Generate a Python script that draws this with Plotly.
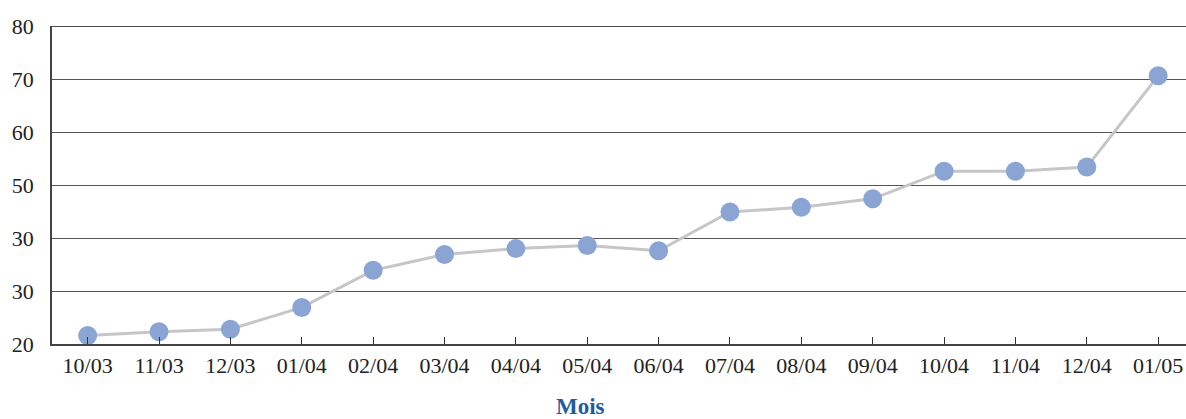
import plotly.graph_objects as go

# Monthly series
mois = ["10/03", "11/03", "12/03", "01/04", "02/04", "03/04", "04/04", "05/04",
        "06/04", "07/04", "08/04", "09/04", "10/04", "11/04", "12/04", "01/05"]
valeurs = [21.6, 22.3, 22.8, 26.9, 33.9, 36.9, 38.0, 38.6,
           37.6, 44.9, 45.8, 47.4, 52.6, 52.6, 53.4, 70.6]

# Y tick values and their printed labels
y_ticks = [20, 30, 40, 50, 60, 70, 80]
y_labels = ["20", "30", "30", "50", "60", "70", "80"]

serif = "Liberation Serif"

fig = go.Figure()
fig.add_trace(go.Scatter(
    x=list(range(len(mois))),
    y=valeurs,
    mode="lines+markers",
    line=dict(color="#C6C6C6", width=3),
    marker=dict(color="#8AA5D3", size=19, line=dict(width=0)),
    showlegend=False,
    hoverinfo="skip",
))

# Black rule along the top of the plotting area
fig.add_shape(type="line", xref="paper", yref="y", x0=0, x1=1, y0=80, y1=80,
              line=dict(color="#111111", width=1.5))

fig.add_annotation(text="<b>Mois</b>", xref="paper", yref="paper",
                   x=0.466, y=0, yshift=-62, yanchor="middle", showarrow=False,
                   font=dict(family=serif, size=23, color="#1F5E9C"))

fig.update_layout(
    width=1186, height=419,
    margin=dict(l=52, r=0, t=26, b=75),
    paper_bgcolor="white", plot_bgcolor="white",
    font=dict(family=serif, size=22, color="#222222"),
    xaxis=dict(
        range=[-0.5, 15.39],
        tickmode="array",
        tickvals=list(range(len(mois))),
        ticktext=mois,
        ticks="inside", ticklen=7, tickwidth=1.2, tickcolor="#333333",
        showline=True, linecolor="#444444", linewidth=1.5,
        showgrid=False, zeroline=False,
        ticklabelstandoff=1,
        fixedrange=True,
    ),
    yaxis=dict(
        range=[20, 80],
        tickmode="array",
        tickvals=y_ticks,
        ticktext=y_labels,
        ticks="",
        showline=True, linecolor="#444444", linewidth=1.5,
        showgrid=True, gridcolor="#555555", gridwidth=1.2,
        zeroline=False,
        ticklabelstandoff=12,
        fixedrange=True,
    ),
)

fig.write_html("out.html")
